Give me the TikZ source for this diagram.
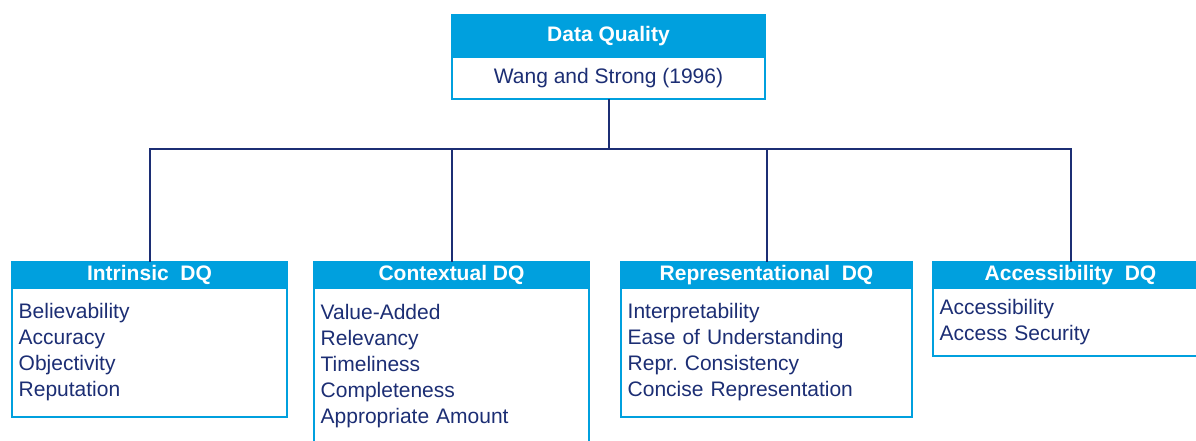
\documentclass[tikz,border=0pt]{standalone}
\usepackage{fontspec}
\setmainfont{Liberation Sans}
\usetikzlibrary{positioning}
\definecolor{dqblue}{RGB}{0,160,222}
\definecolor{dqnavy}{RGB}{28,46,116}
\newcommand{\dqfont}{\fontsize{15.75}{19.5}\selectfont}
\frenchspacing
\tikzset{
    head/.style={rectangle, draw=dqblue, fill=dqblue, line width=1.5pt, text=white, font=\bfseries\dqfont, inner sep=0pt, outer sep=0pt, minimum width=206.25pt, minimum height=19.5pt},
    cite/.style={rectangle, draw=dqblue, fill=white, line width=1.5pt, text=dqnavy, font=\dqfont, inner sep=0pt, outer sep=0pt},
    items/.style={rectangle, draw=dqblue, fill=white, line width=1.5pt, text=dqnavy, font=\dqfont, align=left, inner xsep=5pt, inner ysep=0pt, outer sep=0pt},
    link/.style={draw=dqnavy, line width=1.5pt},
}

\begin{document}
\begin{tikzpicture}[x=0.75pt, y=-0.75pt]
\useasboundingbox (0,0) rectangle (1196,441);
\clip (0,0) rectangle (1196,441);

% Top box
\node[head, anchor=north west, minimum width=234.75pt, minimum height=31.5pt] (dq) at (452,15) {Data Quality};
\node[cite, below=0pt of dq, minimum width=234.75pt, minimum height=31.5pt] (ws) {Wang and Strong (1996)};

% Categories
\node[head, anchor=north west] (intr) at (12,262) {Intrinsic~ DQ};
\node[items, below=0pt of intr, text width=196.25pt, minimum height=96.75pt] (intrlist)
  {Believability\\Accuracy\\Objectivity\\Reputation};

\node[head, anchor=north west] (cont) at (314,262) {Contextual DQ};
\node[items, below=0pt of cont, text width=196.25pt, minimum height=117.75pt] (contlist)
  {Value-Added\\Relevancy\\Timeliness\\Completeness\\Appropriate Amount};

\node[head, anchor=north west, minimum width=218.25pt] (repr) at (621,262) {Representational~ DQ};
\node[items, below=0pt of repr, text width=208.25pt, minimum height=96.75pt] (reprlist)
  {Interpretability\\Ease of Understanding\\Repr. Consistency\\Concise Representation};

\node[head, anchor=north west] (acc) at (933,262) {Accessibility~ DQ};
\node[items, below=0pt of acc, text width=196.25pt, minimum height=51pt] (acclist)
  {Accessibility\\Access Security};

% Tree lines
\draw[link] (ws.south) -- ++(0,50) coordinate (bus);
\draw[link] (bus) -| (intr.north);
\draw[link] (bus) -| (cont.north);
\draw[link] (bus) -| (repr.north);
\draw[link] (bus) -| (acc.north);

\end{tikzpicture}
\end{document}
